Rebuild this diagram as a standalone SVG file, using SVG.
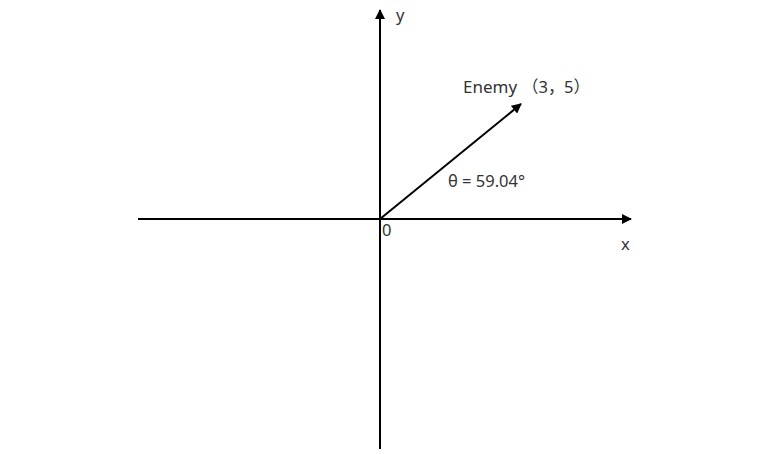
<svg xmlns="http://www.w3.org/2000/svg" width="774" height="454" viewBox="0 0 774 454">
<style>
.ax{stroke:#000;stroke-width:2;fill:none}
.t{font-family:"Noto Sans","Noto Sans CJK SC",sans-serif;font-size:16.5px;fill:#333}
</style>
<defs>
<marker id="ah" markerWidth="10" markerHeight="10" refX="9" refY="5" orient="auto" markerUnits="userSpaceOnUse">
<path d="M0,0 L10,5 L0,10 Z" fill="#000"/>
</marker>
</defs>
<rect width="774" height="454" fill="#fff"/>
<g id="connectors">
<line class="ax" x1="138" y1="219" x2="631" y2="219" marker-end="url(#ah)"/>
<line class="ax" x1="380" y1="449" x2="380" y2="10" marker-end="url(#ah)"/>
<line class="ax" x1="380" y1="219" x2="521" y2="104" marker-end="url(#ah)"/>
</g>
<g id="labels">
<text class="t" x="396" y="21">y</text>
<text class="t" x="621" y="250">x</text>
<text class="t" x="382" y="236">0</text>
<text class="t" x="463" y="93"><tspan style="font-size:17px">Enemy</tspan><tspan x="522">（3，</tspan><tspan x="564">5）</tspan></text>
<text class="t" x="448" y="187">θ = 59.04°</text>
</g>
</svg>
